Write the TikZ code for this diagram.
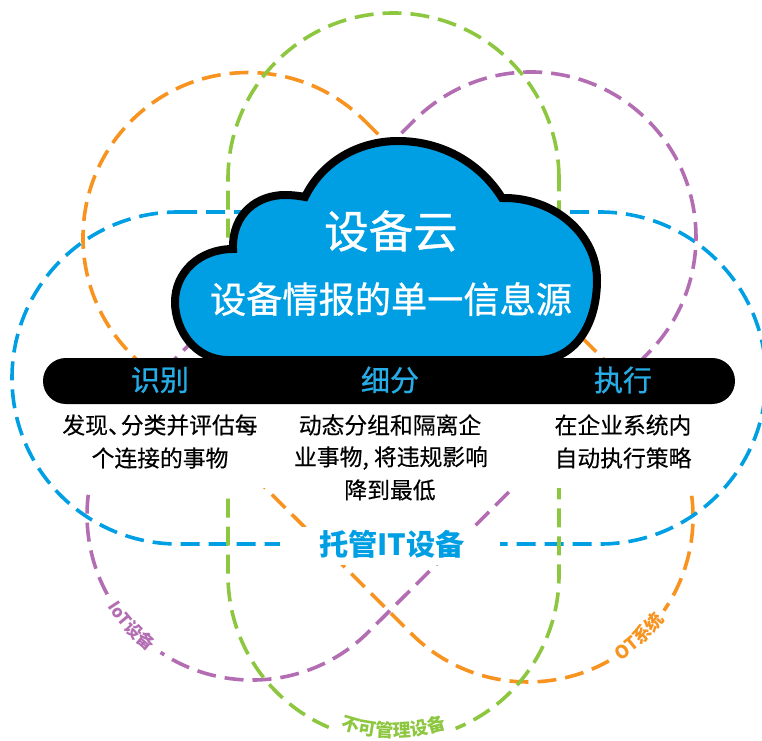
\documentclass[tikz,border=0pt]{standalone}
\usepackage{fontspec}
\usetikzlibrary{decorations.text}
\newfontfamily\cjk{Noto Sans CJK SC}
\newfontfamily\cjkm[FakeBold=0.35]{Noto Sans CJK SC}
\newfontfamily\cjkt[FakeBold=0.8]{Noto Sans CJK SC}
\definecolor{cblue}{HTML}{009FE3}
\definecolor{corange}{HTML}{F7931E}
\definecolor{cpurple}{HTML}{B36DB2}
\definecolor{cgreen}{HTML}{8DC63F}
\newcommand{\fs}[1]{\fontsize{#1}{#1}\selectfont}
\tikzset{
  x=1pt,y=1pt,
  ring/.style={line width=3.6pt,dash pattern=on 19pt off 9pt},
  gapmask/.style={draw=white,line width=9pt},
  body/.style={font=\cjkm\fs{22.8},black,align=center,inner sep=0pt},
  head/.style={font=\cjkt\fs{29},text=cblue!85!white,inner sep=0pt},
  title/.style={font=\cjkt\fs{#1},white,inner sep=0pt},
}
\begin{document}
\begin{tikzpicture}
\useasboundingbox (0,0) rectangle (762,740);
% rings
\draw[ring,corange] (364.7,619.2) -- (644.7,339.7) arc[start angle=45,end angle=-135,radius=165] -- (131.3,385.8) arc[start angle=225,end angle=45,radius=165] -- cycle;
\draw[ring,cblue] (178,528) -- (600,528) arc[start angle=90,end angle=-90,radius=166] -- (178,196) arc[start angle=270,end angle=90,radius=166] -- cycle;
\draw[ring,cpurple] (647.7,386.3) -- (368.7,108.3) arc[start angle=-45,end angle=-225,radius=165] -- (414.3,619.7) arc[start angle=135,end angle=-45,radius=165] -- cycle;
\draw[ring,cgreen] (559,561.5) arc[start angle=0,end angle=180,radius=165.5] -- (228,165) arc[start angle=180,end angle=360,radius=165.5] -- cycle;
% masks
\fill[white] (60,252) rectangle (702,372);
\fill[white] (222,242) rectangle (234,253);
\fill[white] (280,175) rectangle (500,213);
\draw[gapmask] (252,225) ++(208.9:165) arc[start angle=208.9,end angle=236.3,radius=165];
\draw[gapmask] (528,223) ++(-60.2:165) arc[start angle=-60.2,end angle=-34.6,radius=165];
\draw[gapmask] (393.5,165) ++(247:165.5) arc[start angle=247,end angle=292,radius=165.5];
% cloud
\draw[fill=cblue,line width=8pt,miter limit=6]
  (233,491) .. controls (232,527) and (258,545) .. (285,545)
  .. controls (293,545) and (300,544) .. (305,543)
  .. controls (322,578) and (358,599) .. (398,599)
  .. controls (443,599) and (481,576) .. (502,542)
  .. controls (555,543) and (597,505) .. (597,460)
  .. controls (597,415) and (575,382) .. (540,380)
  -- (228,380)
  .. controls (195,380) and (175,410) .. (175,438)
  .. controls (175,468) and (200,491) .. (233,491) -- cycle;
% bar
\fill[black,rounded corners=22.9pt] (43,336) rectangle (735,382);
% texts
\node[title=44.5] (t1) at (391,509) {设备云};
\node[title=36.2] (t2) at (391,441) {设备情报的单一信息源};
\node[head] (h1) at (160,360) {识别};
\node[head] (h2) at (390,360) {细分};
\node[head] (h3) at (623,360) {执行};
\node[body] (b1l1) at (160,315) {发现、\kern-10pt分类并评估每};
\node[body] (b1l2) at (160,282) {个连接的事物};
\node[body] (b2l1) at (390,315) {动态分组和隔离企};
\node[body] (b2l2) at (391,282) {业事物, 将违规影响};
\node[body] (b2l3) at (390,250) {降到最低};
\node[body] (b3l1) at (623,315) {在企业系统内};
\node[body] (b3l2) at (623,282) {自动执行策略};
\node[font=\cjk\bfseries\fs{29.2},text=cblue,inner sep=0pt] (mt) at (392,196) {托管IT设备};
% curved labels
\path[decorate,decoration={text along path,text align=center,text format delimiters={|}{|},
  text={|\cjk\bfseries\fs{17}\color{cpurple}|IoT设备}}]
  (252,225) ++(203:171) arc[start angle=203,end angle=242,radius=171];
\path[decorate,decoration={text along path,text align=center,text format delimiters={|}{|},
  text={|\cjk\bfseries\fs{18}\color{corange}|OT系统}}]
  (528,223) ++(-66:171) arc[start angle=-66,end angle=-28,radius=171];
\path[decorate,decoration={text along path,text align=center,text format delimiters={|}{|},
  text={|\cjk\bfseries\fs{18}\color{cgreen}|不可管理设备}}]
  (393.5,165) ++(245:162.5) arc[start angle=245,end angle=295,radius=162.5];
\end{tikzpicture}
\end{document}
